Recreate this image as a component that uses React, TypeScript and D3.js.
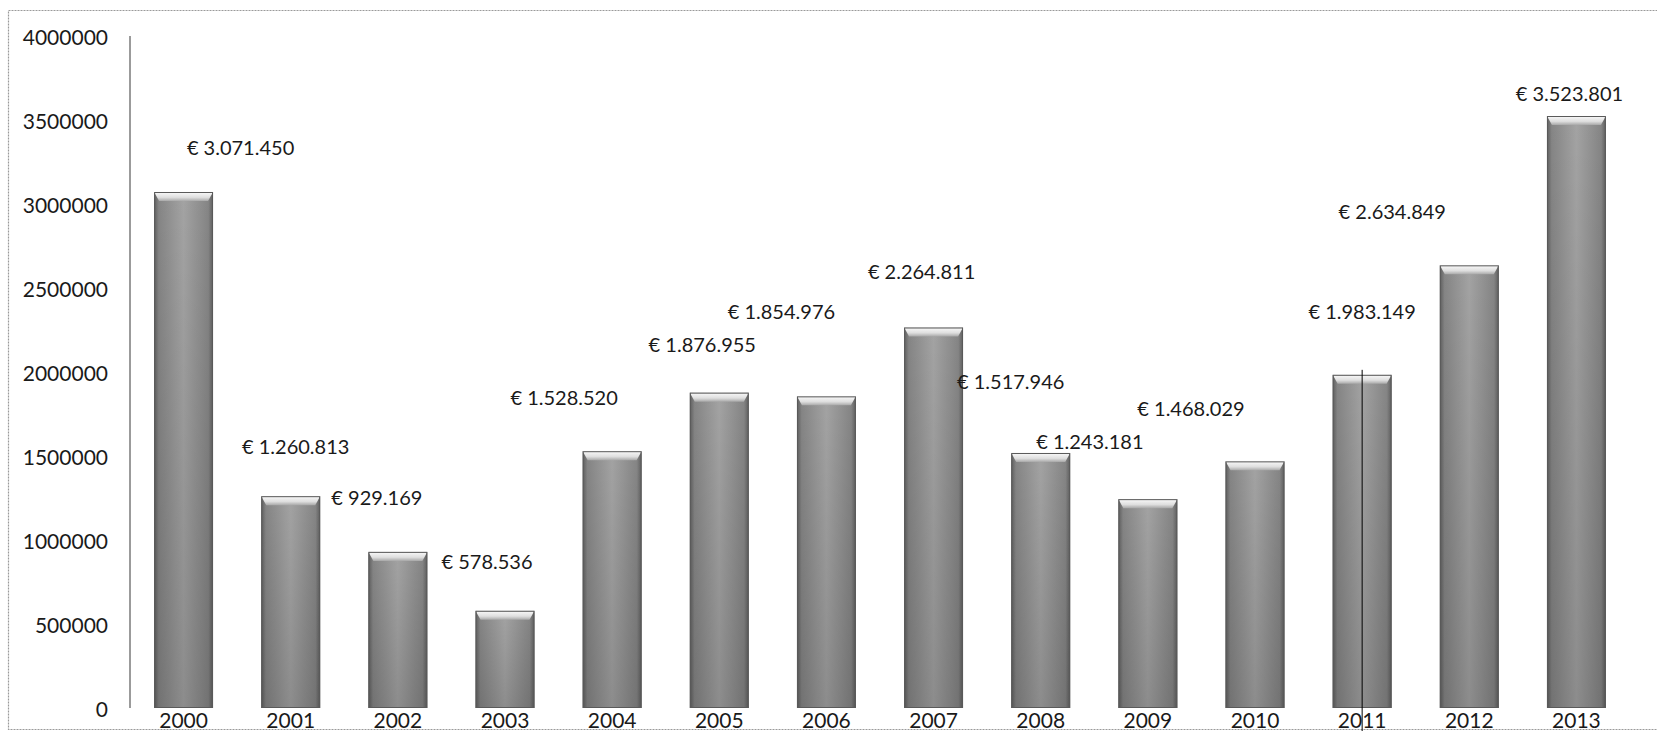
import React from "react";
import * as d3 from "d3";

const years = ["2000", "2001", "2002", "2003", "2004", "2005", "2006", "2007", "2008", "2009", "2010", "2011", "2012", "2013"];
const amounts = [3071450, 1260813, 929169, 578536, 1528520, 1876955, 1854976, 2264811, 1517946, 1243181, 1468029, 1983149, 2634849, 3523801];
const yTicks = [0, 500000, 1000000, 1500000, 2000000, 2500000, 3000000, 3500000, 4000000];

// layout nudges for the hand-placed data labels (relative to bar centre / bar top)
const labelDx = [57, 5, -21, -18, -48, -17, -45, -12, -30, -58, -64, 0, -77, -7];
const labelDy = [-45, -50, -55, -50, -54, -49, -85, -57, -72, -58, -53, -64, -54, -23];

const W = 1657;
const H = 731;
const FONT = "Lato, 'Open Sans', sans-serif";

export default function App() {
  const x = d3.scaleBand<string>().domain(years).range([130, 1630]).paddingInner(0.45).paddingOuter(0.225);
  const y = d3.scaleLinear().domain([0, 4000000]).range([708, 36]);
  const bw = x.bandwidth();
  const fmt = (v: number) => "€ " + d3.format(",")(v).replace(/,/g, ".");
  const bevel = 9;
  const inset = 5;
  const i2011 = years.indexOf("2011");

  return (
    <div style={{ position: "absolute", left: 0, top: 0, width: W, height: H, background: "#fff" }}>
      <svg width={W} height={H} style={{ display: "block" }}>
        <defs>
          <linearGradient id="barH" x1="0" x2="1" y1="0" y2="0">
            <stop offset="0" stopColor="#5e5e5e" />
            <stop offset="0.08" stopColor="#858585" />
            <stop offset="0.5" stopColor="#a3a3a3" />
            <stop offset="0.92" stopColor="#858585" />
            <stop offset="1" stopColor="#5e5e5e" />
          </linearGradient>
          <linearGradient id="barV" x1="0" x2="0" y1="0" y2="1">
            <stop offset="0" stopColor="#000" stopOpacity="0" />
            <stop offset="1" stopColor="#000" stopOpacity="0.14" />
          </linearGradient>
          <linearGradient id="bevelTop" x1="0" x2="0" y1="0" y2="1">
            <stop offset="0" stopColor="#fafafa" />
            <stop offset="0.6" stopColor="#dedede" />
            <stop offset="1" stopColor="#a8a8a8" />
          </linearGradient>
        </defs>

        {/* frame */}
        <rect x={8.5} y={10.5} width={W} height={719} fill="none" stroke="#9a9a9a" strokeWidth={1.2} strokeDasharray="2 1" />

        {/* y axis */}
        <line x1={x.range()[0]} x2={x.range()[0]} y1={y(4000000)} y2={y(0)} stroke="#7a7a7a" strokeWidth={1.5} />
        {yTicks.map((t) => (
          <text key={t} x={108} y={y(t)} textAnchor="end" dominantBaseline="central" fontFamily={FONT} fontSize={21} fill="#1a1a1a">
            {t}
          </text>
        ))}

        {/* bars */}
        {years.map((yr, i) => {
          const x0 = x(yr)!;
          const x1 = x0 + bw;
          const top = y(amounts[i]);
          const bottom = y(0);
          const h = bottom - top;
          const bev = Math.min(bevel, h / 2);
          return (
            <g key={yr}>
              <rect x={x0} y={top} width={bw} height={h} fill="url(#barH)" />
              <rect x={x0} y={top} width={bw} height={h} fill="url(#barV)" />
              <polygon
                points={`${x0},${top} ${x1},${top} ${x1 - inset},${top + bev} ${x0 + inset},${top + bev}`}
                fill="url(#bevelTop)"
              />
              <rect x={x0 + 0.5} y={top + 0.5} width={bw - 1} height={h - 1} fill="none" stroke="#5a5a5a" strokeWidth={1} />
            </g>
          );
        })}

        {/* data labels */}
        {years.map((yr, i) => (
          <text
            key={"l" + yr}
            x={x(yr)! + bw / 2 + labelDx[i]}
            y={y(amounts[i]) + labelDy[i]}
            textAnchor="middle"
            dominantBaseline="central"
            fontFamily={FONT}
            fontSize={20}
            fill="#1a1a1a"
          >
            {fmt(amounts[i])}
          </text>
        ))}

        {/* category labels */}
        {years.map((yr) => (
          <text key={"c" + yr} x={x(yr)! + bw / 2} y={719} textAnchor="middle" dominantBaseline="central" fontFamily={FONT} fontSize={21} fill="#1a1a1a">
            {yr}
          </text>
        ))}

        {/* thin vertical marker line through 2011 bar */}
        <line
          x1={x(years[i2011])! + bw / 2}
          x2={x(years[i2011])! + bw / 2}
          y1={y(amounts[i2011]) - 5}
          y2={H}
          stroke="#000"
          strokeWidth={1}
        />
      </svg>
    </div>
  );
}
